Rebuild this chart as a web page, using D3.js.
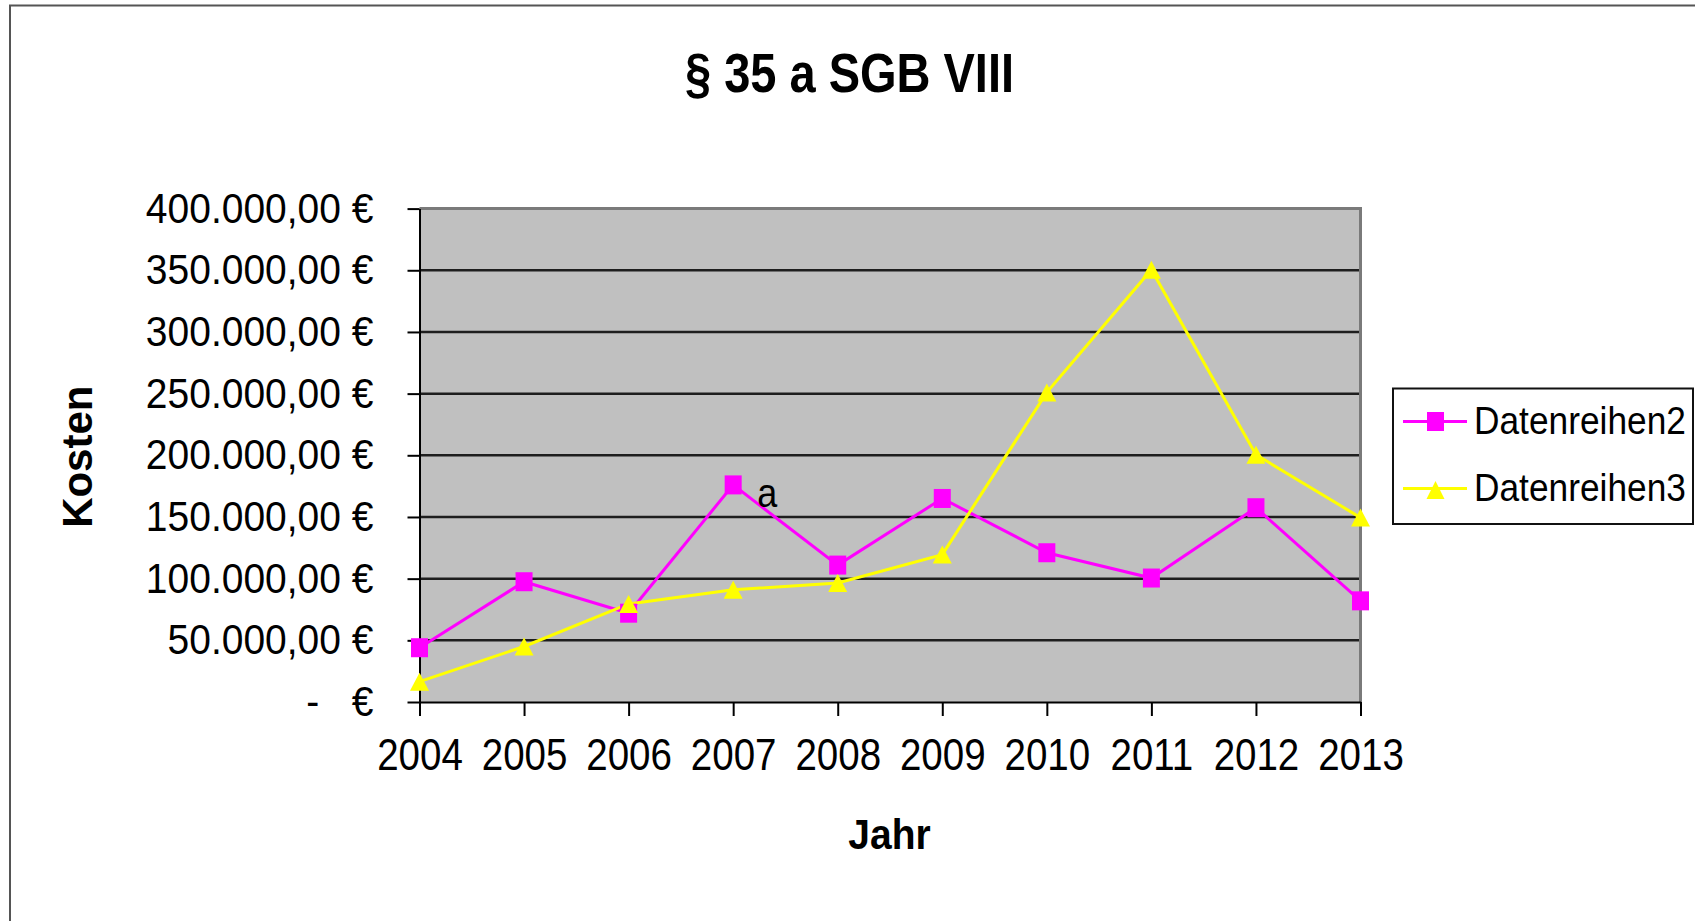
<!DOCTYPE html>
<html>
<head>
<meta charset="utf-8">
<script src="https://cdn.jsdelivr.net/npm/d3@7"></script>
<style>
  html, body { margin: 0; padding: 0; background: #fff; }
  svg { display: block; }
  text { font-family: "Liberation Sans", Arial, sans-serif; fill: #000; white-space: pre; }
</style>
</head>
<body>
<svg id="chart" width="1695" height="921"></svg>
<script>
// ---- data ----
const years = ["2004","2005","2006","2007","2008","2009","2010","2011","2012","2013"];
const seriesNames = ["Datenreihen2", "Datenreihen3"];
const datenreihen2 = [44000, 97500, 72000, 176000, 111000, 165000, 121000, 100500, 157500, 82000];
const datenreihen3 = [16500, 45000, 79500, 91000, 96500, 119500, 251000, 350500, 200500, 149500];
const yTicks = [0, 50000, 100000, 150000, 200000, 250000, 300000, 350000, 400000];
const title = "§ 35 a SGB VIII";
const xTitle = "Jahr";
const yTitle = "Kosten";
const pointLabel = { series: 0, index: 3, text: "a" };

const svg = d3.select("#chart");
const W = 1695, H = 921;
const plot = { left: 419.5, right: 1360.5, top: 208.6, bottom: 702 };

const x = d3.scalePoint().domain(years).range([plot.left, plot.right]).padding(0);
const y = d3.scaleLinear().domain([0, 400000]).range([plot.bottom, plot.top]);

const deFmt = d3.formatLocale({ decimal: ",", thousands: ".", grouping: [3], currency: ["", " €"] });
const money = deFmt.format(",.2f");
const fmtY = v => v === 0 ? "-\u00A0\u00A0\u00A0€" : money(v) + " €";

// outer chart border
svg.append("rect").attr("x", 10).attr("y", 5.5).attr("width", W + 20).attr("height", H + 20)
  .attr("fill", "#fff").attr("stroke", "#555").attr("stroke-width", 2);

// plot background
svg.append("rect").attr("x", plot.left).attr("y", plot.top)
  .attr("width", plot.right - plot.left).attr("height", plot.bottom - plot.top)
  .attr("fill", "#C0C0C0");

// gridlines
svg.append("g").selectAll("line").data(yTicks.filter(v => v > 0 && v < 400000)).join("line")
  .attr("x1", plot.left).attr("x2", plot.right)
  .attr("y1", d => y(d)).attr("y2", d => y(d))
  .attr("stroke", "#1e1e1e").attr("stroke-width", 2.5);

// plot border top/right (gray)
svg.append("path")
  .attr("d", `M${plot.left},${plot.top}H${plot.right}V${plot.bottom}`)
  .attr("fill", "none").attr("stroke", "#7a7a7a").attr("stroke-width", 3);

// y axis
const yAxis = svg.append("g").attr("transform", `translate(${plot.left},0)`)
  .call(d3.axisLeft(y).tickValues(yTicks).tickSize(12).tickSizeOuter(0).tickFormat(fmtY));
yAxis.select(".domain").attr("stroke", "#000").attr("stroke-width", 2);
yAxis.selectAll(".tick line").attr("stroke", "#000").attr("stroke-width", 2);
yAxis.selectAll(".tick text")
  .attr("x", null).attr("y", null).attr("dy", null)
  .attr("text-anchor", "end")
  .attr("font-size", 39)
  .attr("transform", "translate(-46,13.5) scale(1,1.11)");

// x axis
const xAxis = svg.append("g").attr("transform", `translate(0,${plot.bottom})`)
  .call(d3.axisBottom(x).tickSize(14).tickSizeOuter(0));
xAxis.select(".domain").attr("stroke", "#000").attr("stroke-width", 2);
xAxis.selectAll(".tick line").attr("stroke", "#000").attr("stroke-width", 2);
xAxis.selectAll(".tick text")
  .attr("x", null).attr("y", null).attr("dy", null)
  .attr("text-anchor", "middle")
  .attr("font-size", 38.5)
  .attr("transform", "translate(0,68) scale(1,1.17)");

// lines
const colors = ["#FF00FF", "#FFFF00"];
const allSeries = [datenreihen2, datenreihen3];
const line = d3.line().x((d, i) => x(years[i])).y(d => y(d));

allSeries.forEach((s, k) => {
  svg.append("path").datum(s).attr("d", line)
    .attr("fill", "none").attr("stroke", colors[k]).attr("stroke-width", 3);
});

// markers
function drawSquare(g, cx, cy, color) {
  g.append("rect").attr("x", cx - 8.5).attr("y", cy - 9.5).attr("width", 17).attr("height", 19)
    .attr("fill", color);
}
function drawTriangle(g, cx, cy, color, w, h) {
  g.append("path")
    .attr("d", `M${cx},${cy - h / 2}L${cx + w / 2},${cy + h / 2}L${cx - w / 2},${cy + h / 2}Z`)
    .attr("fill", color);
}
const mk = svg.append("g");
datenreihen2.forEach((v, i) => drawSquare(mk, x(years[i]), y(v), colors[0]));
datenreihen3.forEach((v, i) => drawTriangle(mk, x(years[i]), y(v), colors[1], 19, 18));

// point label "a"
const pv = allSeries[pointLabel.series][pointLabel.index];
svg.append("text")
  .attr("transform", `translate(${x(years[pointLabel.index]) + 24},${y(pv) + 22.5}) scale(1,1.12)`)
  .attr("font-size", 36).text(pointLabel.text);

// title
svg.append("text")
  .attr("transform", "translate(849.5,91.7) scale(1,1.19)")
  .attr("text-anchor", "middle").attr("font-weight", "bold").attr("font-size", 47)
  .text(title);

// x title
svg.append("text")
  .attr("transform", "translate(889.5,849.3) scale(1,1.11)")
  .attr("text-anchor", "middle").attr("font-weight", "bold").attr("font-size", 39)
  .text(xTitle);

// y title
svg.append("text")
  .attr("transform", "translate(91.7,456.7) rotate(-90)")
  .attr("text-anchor", "middle").attr("font-weight", "bold").attr("font-size", 42)
  .text(yTitle);

// legend
const lg = svg.append("g");
lg.append("rect").attr("x", 1393).attr("y", 388.5).attr("width", 300).attr("height", 135.5)
  .attr("fill", "#fff").attr("stroke", "#111").attr("stroke-width", 2);
const legendY = [421.5, 488.5];
seriesNames.forEach((name, k) => {
  const ly = legendY[k];
  lg.append("line").attr("x1", 1403).attr("x2", 1467).attr("y1", ly).attr("y2", ly)
    .attr("stroke", colors[k]).attr("stroke-width", 3);
  if (k === 0) drawSquare(lg, 1435.5, ly, colors[k]);
  else drawTriangle(lg, 1435.5, ly + 1.5, colors[k], 18, 18);
  lg.append("text")
    .attr("transform", `translate(1474,${ly + 12}) scale(1,1.12)`)
    .attr("font-size", 35.3).text(name);
});
</script>
</body>
</html>
